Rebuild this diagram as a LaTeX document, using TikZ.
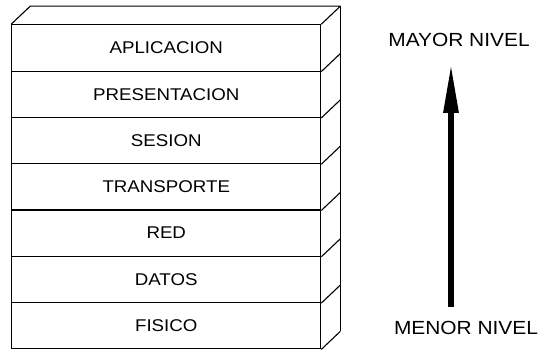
\documentclass[tikz,border=0pt]{standalone}
\usepackage{fontspec}
\setmainfont[FakeStretch=1.1]{Liberation Sans}
\usetikzlibrary{matrix,arrows.meta}

\begin{document}
\begin{tikzpicture} [x=1pt, y=-1pt,
    layer/.style={draw,line width=1.1pt,minimum width=309pt,minimum height=46.3pt,inner sep=0pt,font=\fontsize{17}{20}\selectfont},
    edgeline/.style={line width=1.1pt,line join=round},
    lvl/.style={inner sep=0pt,font=\fontsize{19}{22}\selectfont} ]
  \useasboundingbox (0,0) rectangle (541,350);
  \matrix (m) [
    matrix of nodes
    , row sep=-1.1pt
    , nodes={layer}
    , inner sep=0pt
    , anchor=north west
  ] at (11,24) {
    APLICACION \\
    PRESENTACION \\
    SESION \\
    TRANSPORTE \\
    RED \\
    DATOS \\
    FISICO \\
  };
  % tapa y costado
  \coordinate (tl) at ([shift={(19,-18)}]m-1-1.north west);
  \coordinate (tr) at ([shift={(19,-18)}]m-1-1.north east);
  \coordinate (br) at ([shift={(19,-18)}]m-7-1.south east);
  \draw[edgeline] (m-1-1.north west) -- (tl) -- (tr) -- (m-1-1.north east);
  \draw[edgeline] (tr) -- (br);
  \path[edgeline]
  (m-1-1.south east) edge ++(19,-18)
  (m-2-1.south east) edge ++(19,-18)
  (m-3-1.south east) edge ++(19,-18)
  (m-4-1.south east) edge ++(19,-18)
  (m-5-1.south east) edge ++(19,-18)
  (m-6-1.south east) edge ++(19,-18)
  (m-7-1.south east) edge ++(19,-18)
  ;
  % niveles
  \node[lvl] (mayor) at (459,39.5) {MAYOR NIVEL};
  \node[lvl] (menor) at (466,327.5) {MENOR NIVEL};
  \coordinate (hi) at (451,63);
  \coordinate (lo) at (451,307);
  \draw[line width=6pt,-{Triangle[length=50pt,width=14pt]}] (lo) -- (hi);
\end{tikzpicture}
\end{document}
